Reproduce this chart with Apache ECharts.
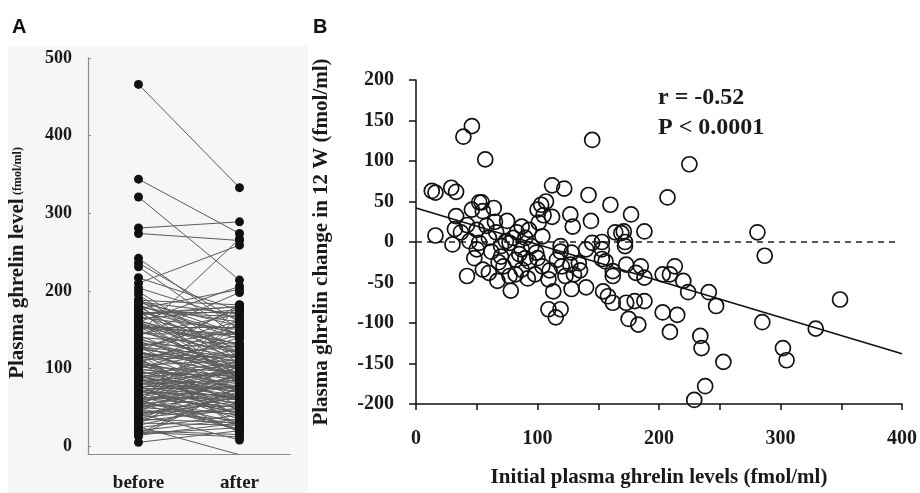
<!DOCTYPE html>
<html><head><meta charset="utf-8">
<script src="https://cdn.jsdelivr.net/npm/echarts@6/dist/echarts.min.js"></script>
<style>html,body{margin:0;padding:0;background:#fff}#c{width:920px;height:493px}</style>
</head><body><div id="c"></div>
<script>
// Panel A: paired plasma ghrelin levels [before, after] (fmol/ml)
const groups = ['before', 'after'];
const yTicksA = [0, 100, 200, 300, 400, 500];
const pairedLevels = [
  [13,76],[16,77],[29,96],[33,95],[16,24],[39,169],[46,182],[57,159],[145,267],[112,182],
  [122,178],[142,198],[160,206],[107,157],[100,140],[112,143],[127,161],[129,148],[144,170],[101,125],
  [75,101],[64,106],[54,103],[55,93],[46,86],[33,65],[42,63],[32,48],[37,49],[50,65],
  [66,78],[87,106],[93,108],[83,95],[164,176],[30,27],[44,45],[52,51],[74,75],[104,111],
  [119,114],[153,153],[42,8],[55,21],[60,22],[67,19],[78,18],[77,35],[87,53],[93,69],
  [82,60],[70,52],[62,50],[50,41],[104,74],[109,63],[113,52],[109,26],[115,22],[119,36],
  [119,107],[116,94],[123,81],[128,70],[127,99],[134,108],[140,84],[128,115],[153,144],[158,91],
  [162,87],[140,131],[145,144],[156,132],[162,120],[77,76],[87,78],[99,86],[177,202],[188,182],
  [171,180],[172,167],[154,93],[173,98],[180,107],[188,115],[175,80],[183,81],[185,155],[188,144],
  [181,143],[162,126],[173,145],[153,132],[172,172],[169,180],
  [60,65],[70,65],[80,85],[90,70],[95,90],[85,70],[65,90],[48,28],[58,78],[72,42],
  [100,80],[110,75],[120,90],[135,100],[130,90],[90,95],[98,58],[68,43],[82,42],[92,47],
  [20,35],[24,40],[27,55],[35,30],[38,70],[41,58],[45,33],[49,88],[53,72],[56,40],
  [59,30],[63,60],[69,98],[73,55],[76,62],[79,110],[84,65],[88,120],[91,60],[96,72],
  [102,96],[106,88],[111,118],[114,130],[118,70],[121,100],[125,110],[131,128],[137,115],[143,90],
  [147,120],[150,100],[157,140],[159,112],[166,150],[168,130],[176,120],[179,160],[182,138],[186,170],
  [466,333],[344,274],[321,214],[281,289],[274,265],[242,150],[236,160],[231,140],[217,175],[210,259],
  [204,163],[199,120],[195,110],[5,20],[25,-11],[20,15],[14,30],[18,12]
];

// Panel B: initial level vs change in 12 W (fmol/ml)
const xTicksB = [0, 100, 200, 300, 400];
const ghrelinPoints = [
  [13,63],[16,61],[29,67],[33,62],[16,8],[39,130],[46,143],[57,102],[145,126],[112,70],
  [122,66],[142,58],[160,46],[107,50],[100,40],[112,31],[127,34],[129,19],[144,26],[101,24],
  [75,26],[64,42],[54,49],[55,38],[46,40],[33,32],[42,21],[32,16],[37,12],[50,15],
  [66,12],[87,19],[93,15],[83,12],[164,12],[30,-3],[44,1],[52,-1],[74,1],[104,7],
  [119,-5],[153,0],[42,-42],[55,-34],[60,-38],[67,-48],[78,-60],[77,-42],[87,-34],[93,-24],
  [82,-22],[70,-18],[62,-12],[50,-9],[104,-30],[109,-46],[113,-61],[109,-83],[115,-93],[119,-83],
  [119,-12],[116,-22],[123,-42],[128,-58],[127,-28],[134,-26],[140,-56],[128,-13],[153,-9],[158,-67],
  [162,-75],[140,-9],[145,-1],[156,-24],[162,-42],[77,-1],[87,-9],[99,-13],[225,96],[207,55],
  [177,34],[188,13],[171,13],[172,-5],[281,12],[287,-17],[349,-71],[285,-99],[329,-107],[302,-131],
  [305,-146],[253,-148],[234,-116],[235,-131],[238,-178],[229,-195],[241,-62],[247,-79],[224,-62],[213,-30],
  [220,-48],[203,-40],[209,-40],[203,-87],[215,-90],[209,-111],[154,-61],[173,-75],[180,-73],[188,-73],
  [175,-95],[183,-102],[185,-30],[188,-44],[181,-38],[162,-36],[173,-28],[153,-21],[172,0],[169,11],
  [60,5],[70,-5],[80,5],[90,-20],[95,-5],[85,-15],[65,25],[48,-20],[58,20],[72,-30],
  [100,-20],[110,-35],[120,-30],[135,-35],[130,-40],[90,5],[98,-40],[68,-25],[82,-40],[92,-45],
  [52,49],[103,46],[105,33]
];
const regressionLine = [[0, 42], [400, -138]];
const zeroReference = [[0, 0], [396, 0]];
const statsText = ['r = -0.52', 'P < 0.0001'];

const SERIF = '"Liberation Serif","Times New Roman",serif';
const INK = '#1a1a1a';
const chart = echarts.init(document.getElementById('c'), null, {renderer: 'canvas'});

const boldSerif = (size) => ({fontFamily: SERIF, fontWeight: 'bold', fontSize: size, color: INK});

chart.setOption({
  animation: false,
  backgroundColor: '#ffffff',
  graphic: [
    {type: 'rect', left: 8, top: 46, shape: {width: 300, height: 447}, style: {fill: '#f6f6f6'}, z: -10, silent: true},
    {type: 'text', left: 12, top: 17, style: {text: 'A', fontFamily: '"Liberation Sans",Arial,sans-serif', fontWeight: 'bold', fontSize: 20, fill: '#111'}},
    {type: 'text', left: 313, top: 17, style: {text: 'B', fontFamily: '"Liberation Sans",Arial,sans-serif', fontWeight: 'bold', fontSize: 20, fill: '#111'}},
    {type: 'text', left: 658, top: 86, style: {text: statsText[0], fontFamily: SERIF, fontWeight: 'bold', fontSize: 24, fill: INK}},
    {type: 'text', left: 658, top: 116, style: {text: statsText[1], fontFamily: SERIF, fontWeight: 'bold', fontSize: 24, fill: INK}}
  ],
  grid: [
    {left: 88, top: 58, width: 202, height: 400},
    {left: 416, top: 80, width: 491, height: 325}
  ],
  xAxis: [
    {
      gridIndex: 0, type: 'category', data: groups, boundaryGap: true,
      axisLine: {onZero: false, lineStyle: {color: '#8c8c8c', width: 1.2}},
      axisTick: {show: false},
      axisLabel: Object.assign({margin: 20}, boldSerif(19)),
      splitLine: {show: false}
    },
    {
      gridIndex: 1, type: 'value', min: 0, max: 400, interval: 50,
      axisLine: {onZero: false, lineStyle: {color: '#111', width: 1.5}},
      axisTick: {show: true, length: 6, lineStyle: {color: '#111', width: 1.5}},
      axisLabel: Object.assign({customValues: xTicksB, margin: 25}, boldSerif(20)),
      splitLine: {show: false},
      name: 'Initial plasma ghrelin levels (fmol/ml)', nameLocation: 'middle', nameGap: 63,
      nameTextStyle: boldSerif(21)
    }
  ],
  yAxis: [
    {
      gridIndex: 0, type: 'value', min: -10, max: 500,
      axisLine: {show: true, lineStyle: {color: '#8c8c8c', width: 1.2}},
      axisTick: {show: true, inside: true, length: 3, customValues: yTicksA, lineStyle: {color: '#8c8c8c'}},
      axisLabel: Object.assign({customValues: yTicksA, margin: 16}, boldSerif(18)),
      splitLine: {show: false},
      name: '{a|Plasma ghrelin level} {b|(fmol/ml)}', nameLocation: 'middle', nameGap: 60,
      nameTextStyle: {padding: [0, 14, 0, 0], rich: {a: boldSerif(21), b: boldSerif(12)}}
    },
    {
      gridIndex: 1, type: 'value', min: -200, max: 200, interval: 50,
      axisLine: {show: true, onZero: false, lineStyle: {color: '#111', width: 1.5}},
      axisTick: {show: true, length: 7, lineStyle: {color: '#111', width: 1.5}},
      axisLabel: Object.assign({margin: 22}, boldSerif(20)),
      splitLine: {show: false},
      name: 'Plasma ghrelin change in 12 W (fmol/ml)', nameLocation: 'middle', nameGap: 84,
      nameTextStyle: boldSerif(21)
    }
  ],
  series: [
    {
      type: 'lines', coordinateSystem: 'cartesian2d', xAxisIndex: 0, yAxisIndex: 0,
      data: pairedLevels.map(p => ({coords: [[0, p[0]], [1, p[1]]]})),
      lineStyle: {color: '#5c5c5c', width: 1, opacity: 1}, z: 2, silent: true
    },
    {
      type: 'scatter', xAxisIndex: 0, yAxisIndex: 0, symbol: 'circle', symbolSize: 9,
      data: pairedLevels.map(p => [0, p[0]]).concat(pairedLevels.map(p => [1, p[1]])),
      itemStyle: {color: '#111', opacity: 1}, z: 3
    },
    {
      type: 'line', xAxisIndex: 1, yAxisIndex: 1, data: zeroReference, symbol: 'none',
      lineStyle: {color: '#222', width: 1.3, type: [6, 5]}, z: 1
    },
    {
      type: 'line', xAxisIndex: 1, yAxisIndex: 1, data: regressionLine, symbol: 'none',
      lineStyle: {color: '#111', width: 1.6}, z: 2
    },
    {
      type: 'scatter', xAxisIndex: 1, yAxisIndex: 1, symbol: 'circle', symbolSize: 15,
      data: ghrelinPoints,
      itemStyle: {color: 'transparent', borderColor: '#111', borderWidth: 1.7, opacity: 1}, z: 3
    }
  ]
});
</script></body></html>
